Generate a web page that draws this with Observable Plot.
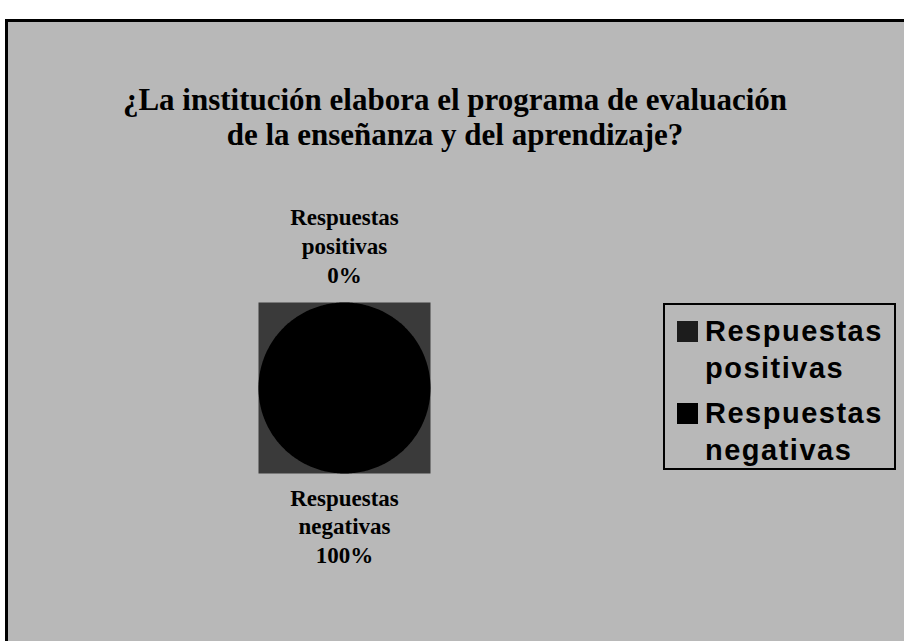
<!DOCTYPE html>
<html>
<head>
<meta charset="utf-8">
<script src="https://cdn.jsdelivr.net/npm/d3@7"></script>
<script src="https://cdn.jsdelivr.net/npm/@observablehq/plot@0.6"></script>
<style>
  html, body { margin: 0; padding: 0; background: #ffffff; overflow: hidden; }
  #wrap { position: relative; width: 904px; height: 641px; overflow: hidden; background: #ffffff; }
  #panel { position: absolute; left: 5px; top: 19px; width: 920px; height: 640px;
           background: #b8b8b8; border-left: 3px solid #000; border-top: 3px solid #000; }
  #chart { position: absolute; left: 0; top: 0; }
  #title { position: absolute; left: 0; top: 82px; width: 910px; text-align: center;
           font-family: "Liberation Serif", "DejaVu Serif", serif; font-weight: bold;
           font-size: 31px; line-height: 35px; color: #000; }
  #legend { position: absolute; left: 663px; top: 303px; width: 229px; height: 163px;
            border: 2px solid #000; box-sizing: content-box; }
  .item { position: absolute; left: 12px; font-family: "Liberation Sans", Arial, sans-serif;
          font-weight: bold; font-size: 29px; line-height: 37px; letter-spacing: 1.5px; color: #000; }
  .sw { position: absolute; width: 21px; height: 21px; }
  .txt { position: absolute; left: 28px; white-space: nowrap; }
</style>
</head>
<body>
<div id="wrap">
  <div id="panel"></div>
  <div id="chart"></div>
  <div id="title"></div>
  <div id="legend"></div>
</div>
<script>
const titleLines = ["¿La institución elabora el programa de evaluación", "de la enseñanza y del aprendizaje?"];
const categories = ["Respuestas positivas", "Respuestas negativas"];
const labelLines = [["Respuestas", "positivas"], ["Respuestas", "negativas"]];
const values = [0, 100];
const colors = ["#1c1c1c", "#000000"];

const data = categories.map((c, i) => ({cat: c, value: values[i], lines: labelLines[i], color: colors[i]}));
const total = d3.sum(values);
const arcs = d3.pie().sort(null).value(d => d.value)(data);

// polygon points for each slice (angle 0 at 12 o'clock, clockwise)
const pts = [];
arcs.forEach(a => {
  const span = a.endAngle - a.startAngle;
  if (span <= 0) return;
  const n = Math.max(2, Math.ceil(span / (Math.PI / 180)));
  const full = span >= 2 * Math.PI - 1e-9;
  if (!full) pts.push({cat: a.data.cat, x: 0, y: 0});
  for (let k = 0; k <= n; k++) {
    const t = a.startAngle + span * k / n;
    pts.push({cat: a.data.cat, x: Math.sin(t), y: Math.cos(t)});
  }
});

const labR = 1.64;
const labels = arcs.map(a => {
  const m = (a.startAngle + a.endAngle) / 2;
  return {
    x: Math.sin(m) * labR,
    y: Math.cos(m) * labR,
    text: a.data.lines.join("\n") + "\n" + Math.round(100 * a.data.value / total) + "%"
  };
});

const plot = Plot.plot({
  width: 904,
  height: 641,
  marginLeft: 258,
  marginRight: 474,
  marginTop: 302,
  marginBottom: 168,
  x: {domain: [-1, 1], axis: null},
  y: {domain: [-1, 1], axis: null},
  color: {domain: categories, range: colors},
  style: {background: "transparent", overflow: "visible"},
  marks: [
    Plot.frame({fill: "#3a3a3a", stroke: "none"}),
    Plot.line(pts, {x: "x", y: "y", z: "cat", fill: "cat", stroke: "none", curve: "linear-closed"}),
    Plot.text(labels, {x: "x", y: "y", text: "text", lineAnchor: "middle", lineHeight: 1.25, dy: -3,
      fontFamily: "Liberation Serif, DejaVu Serif, serif", fontWeight: "bold", fontSize: 23, fill: "#000"})
  ]
});
document.getElementById("chart").appendChild(plot);

document.getElementById("title").innerHTML = titleLines.join("<br>");

const legend = document.getElementById("legend");
const itemTops = [8, 90];
data.forEach((d, i) => {
  const it = document.createElement("div");
  it.className = "item";
  it.style.top = itemTops[i] + "px";
  const sw = document.createElement("div");
  sw.className = "sw";
  sw.style.background = d.color;
  sw.style.top = "8px";
  const tx = document.createElement("div");
  tx.className = "txt";
  tx.innerHTML = d.lines.join("<br>");
  it.appendChild(sw);
  it.appendChild(tx);
  legend.appendChild(it);
});
</script>
</body>
</html>
